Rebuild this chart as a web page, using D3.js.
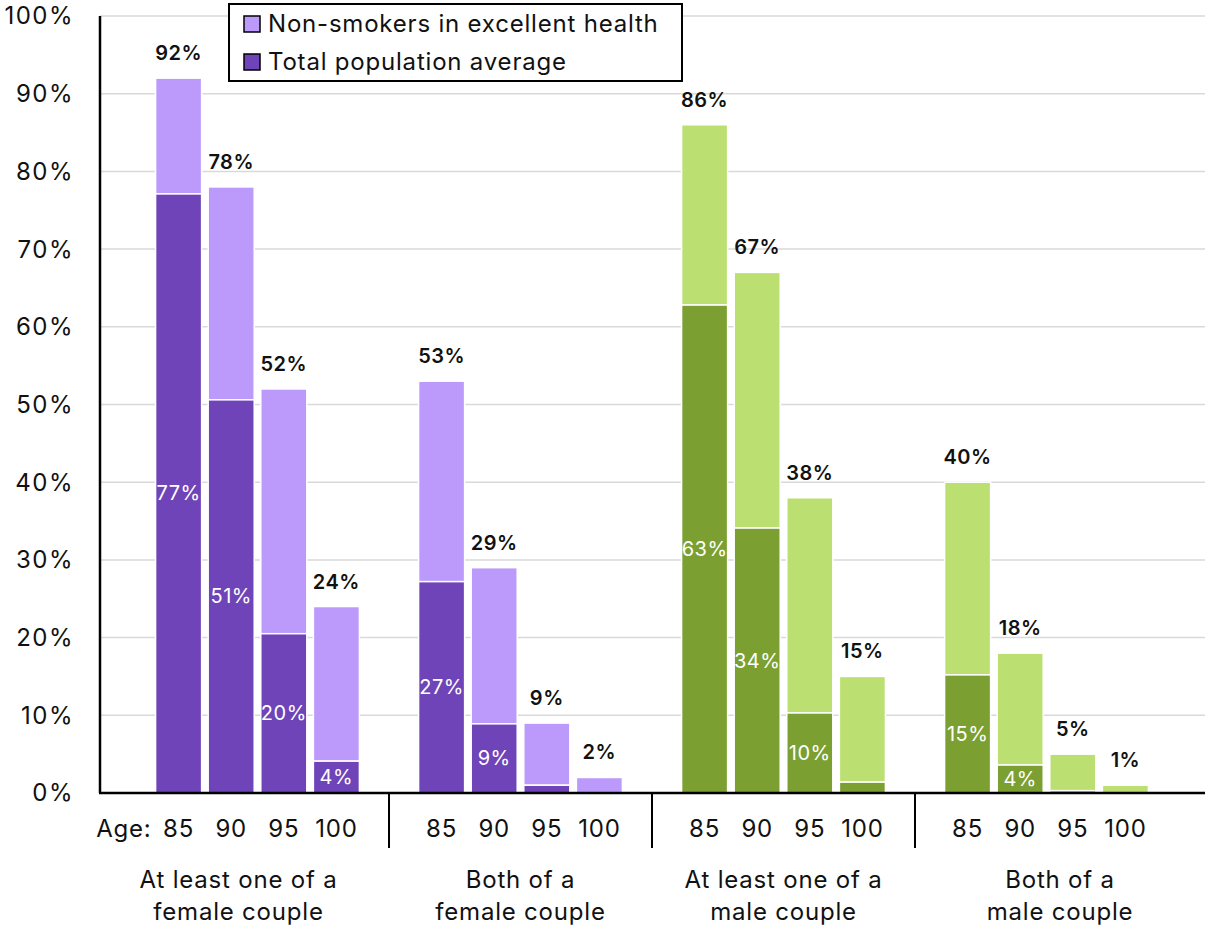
<!DOCTYPE html>
<html>
<head>
<meta charset="utf-8">
<script src="https://cdn.jsdelivr.net/npm/d3@7"></script>
<style>
  body { margin: 0; background: #fff; }
  svg { display: block; font-family: Inter, "Noto Sans", sans-serif; }
</style>
</head>
<body>
<div id="chart"></div>
<script>
// data
const groups = ['At least one of a|female couple', 'Both of a|female couple', 'At least one of a|male couple', 'Both of a|male couple'];
const ages = ['85', '90', '95', '100'];
const nonSmokers = [
  [92, 78, 52, 24],
  [53, 29, 9, 2],
  [86, 67, 38, 15],
  [40, 18, 5, 1]
];
const totalAvg = [
  [77.1, 50.6, 20.5, 4.1],
  [27.2, 8.9, 1.0, 0],
  [62.8, 34.1, 10.3, 1.4],
  [15.2, 3.6, 0.3, 0]
];
const totalLabels = [
  ['77%', '51%', '20%', '4%'],
  ['27%', '9%', '', ''],
  ['63%', '34%', '10%', ''],
  ['15%', '4%', '', '']
];
const yTicks = [0, 10, 20, 30, 40, 50, 60, 70, 80, 90, 100];
const legendLabels = ['Non-smokers in excellent health', 'Total population average'];

const lightCol = ['#bc9afc', '#bc9afc', '#bbdf70', '#bbdf70'];
const darkCol = ['#6e44b8', '#6e44b8', '#7b9f30', '#7b9f30'];

const W = 1205, H = 927;
const m = { top: 16, right: 0, bottom: 134, left: 100 };
const FS = 24, LS = 0.8;
const svg = d3.select('#chart').append('svg').attr('width', W).attr('height', H);

const y = d3.scaleLinear().domain([0, 100]).range([H - m.bottom, m.top]);
const x0 = d3.scaleBand().domain(groups).range([m.left + 26, m.left + 26 + 263 * 4]);
const x1 = d3.scaleBand().domain(ages).range([0, x0.bandwidth()]).paddingInner(0.125).paddingOuter(0.5625);

// grid
svg.append('g').selectAll('line').data(yTicks.filter(d => d > 0)).join('line')
  .attr('x1', m.left).attr('x2', W).attr('y1', d => y(d)).attr('y2', d => y(d))
  .attr('stroke', '#d9d9d9').attr('stroke-width', 1.5);

// y tick labels
svg.append('g').selectAll('text').data(yTicks).join('text')
  .attr('x', 74).attr('y', d => y(d)).attr('dy', '0.35em')
  .attr('text-anchor', 'end').attr('font-size', FS).attr('letter-spacing', 1.5).attr('fill', '#111')
  .text(d => d + '%');

// bars
const rows = [];
groups.forEach((g, gi) => ages.forEach((a, ai) => rows.push({
  g, gi, a, ai, top: nonSmokers[gi][ai], inner: totalAvg[gi][ai], lbl: totalLabels[gi][ai]
})));
const bx = d => x0(d.g) + x1(d.a);

const bars = svg.append('g');
bars.selectAll('.light').data(rows).join('rect')
  .attr('x', bx).attr('width', x1.bandwidth())
  .attr('y', d => y(d.top)).attr('height', d => y(d.inner) - y(d.top))
  .attr('fill', d => lightCol[d.gi]).attr('stroke', '#fff').attr('stroke-width', 1.5);
bars.selectAll('.dark').data(rows.filter(d => d.inner > 0)).join('rect')
  .attr('x', bx).attr('width', x1.bandwidth())
  .attr('y', d => y(d.inner)).attr('height', d => y(0) - y(d.inner))
  .attr('fill', d => darkCol[d.gi]).attr('stroke', '#fff').attr('stroke-width', 1.5);

// value labels
svg.append('g').selectAll('text').data(rows).join('text')
  .attr('x', d => bx(d) + x1.bandwidth() / 2).attr('y', d => y(d.top) - 25)
  .attr('dy', '0.35em').attr('text-anchor', 'middle')
  .attr('font-size', 20).attr('font-weight', 600).attr('letter-spacing', 0.5).attr('fill', '#111')
  .text(d => d.top + '%');
svg.append('g').selectAll('text').data(rows.filter(d => d.lbl)).join('text')
  .attr('x', d => bx(d) + x1.bandwidth() / 2).attr('y', d => (y(d.inner) + y(0)) / 2)
  .attr('dy', '0.35em').attr('text-anchor', 'middle')
  .attr('font-size', 20).attr('letter-spacing', 0.5).attr('fill', '#fff')
  .text(d => d.lbl);

// axes lines
svg.append('line').attr('x1', m.left).attr('x2', m.left).attr('y1', m.top).attr('y2', y(0))
  .attr('stroke', '#000').attr('stroke-width', 2.5);
svg.append('line').attr('x1', m.left - 1).attr('x2', W).attr('y1', y(0)).attr('y2', y(0))
  .attr('stroke', '#000').attr('stroke-width', 2.5);
svg.append('g').selectAll('line').data(groups.slice(1)).join('line')
  .attr('x1', d => x0(d)).attr('x2', d => x0(d)).attr('y1', y(0)).attr('y2', y(0) + 55)
  .attr('stroke', '#000').attr('stroke-width', 2);

// age labels
svg.append('g').selectAll('text').data(rows).join('text')
  .attr('x', d => bx(d) + x1.bandwidth() / 2).attr('y', y(0) + 36)
  .attr('dy', '0.35em').attr('text-anchor', 'middle')
  .attr('font-size', FS).attr('letter-spacing', LS).attr('fill', '#111')
  .text(d => d.a);
svg.append('text').attr('x', x0(groups[0]) + x1(ages[0]) - 4).attr('y', y(0) + 36)
  .attr('dy', '0.35em').attr('text-anchor', 'end')
  .attr('font-size', FS).attr('letter-spacing', LS).attr('fill', '#111').text('Age:');

// group labels
const edges = [m.left, x0(groups[1]), x0(groups[2]), x0(groups[3]), W];
const gl = svg.append('g').selectAll('text').data(groups).join('text')
  .attr('x', (d, i) => (edges[i] + edges[i + 1]) / 2 - (i === 0 ? 6 : 0))
  .attr('text-anchor', 'middle').attr('font-size', FS).attr('letter-spacing', LS).attr('fill', '#111');
gl.selectAll('tspan').data(d => d.split('|')).join('tspan')
  .attr('x', function () { return d3.select(this.parentNode).attr('x'); })
  .attr('y', (d, i) => 888 + i * 32)
  .text(d => d);

// legend
const lg = svg.append('g').attr('transform', 'translate(229,4)');
lg.append('rect').attr('width', 453).attr('height', 77)
  .attr('fill', '#fff').attr('stroke', '#000').attr('stroke-width', 2);
legendLabels.forEach((t, i) => {
  const row = lg.append('g').attr('transform', `translate(15,${20 + i * 38})`);
  row.append('rect').attr('x', 0).attr('y', -8).attr('width', 16).attr('height', 16)
    .attr('fill', i === 0 ? lightCol[0] : darkCol[0]).attr('stroke', '#000').attr('stroke-width', 1.5);
  row.append('text').attr('x', 24).attr('y', 0).attr('dy', '0.35em')
    .attr('font-size', FS).attr('letter-spacing', LS).attr('fill', '#111').text(t);
});
</script>
</body>
</html>
